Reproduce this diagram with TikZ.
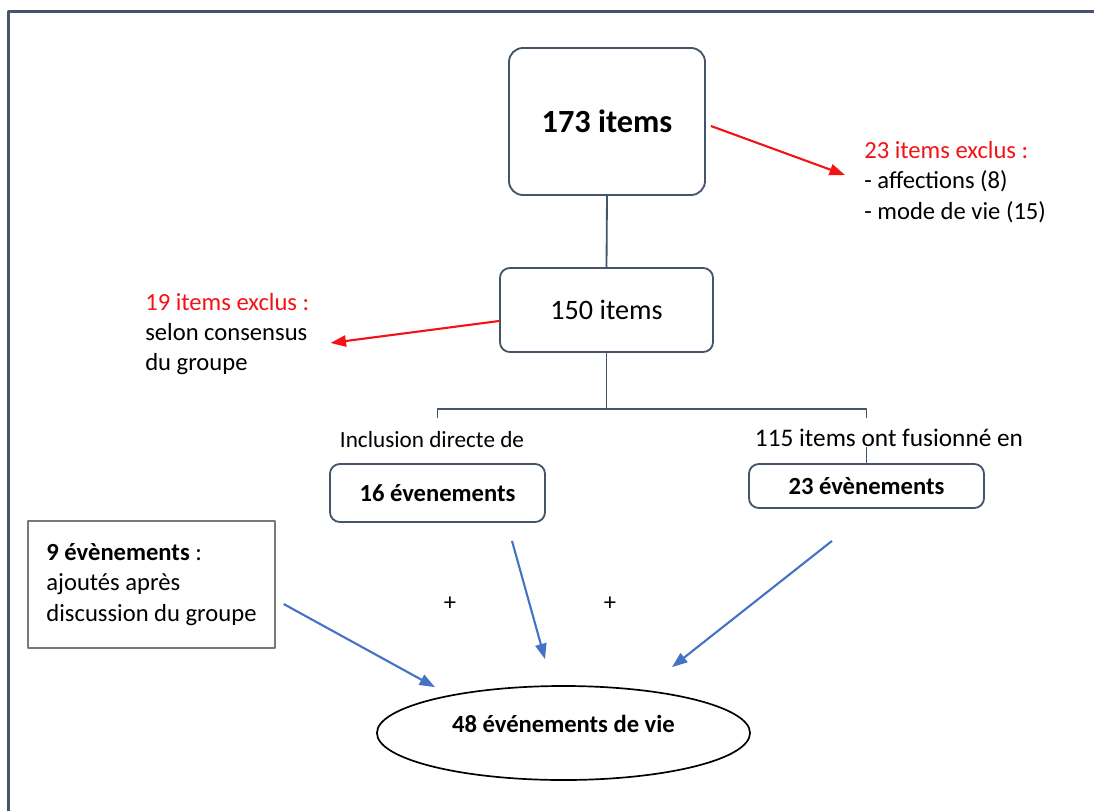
\documentclass[tikz,border=0pt]{standalone}
\usepackage{fontspec}
\setmainfont{Carlito}
\usepackage{tikz}
\usetikzlibrary{arrows.meta,shapes.geometric,positioning,calc}
\definecolor{Slate}{RGB}{68,84,106}
\definecolor{ExRed}{RGB}{245,18,22}
\definecolor{AddBlue}{RGB}{68,114,196}
\definecolor{BoxGray}{RGB}{120,120,120}

\begin{document}
\begin{tikzpicture} [x=0.025cm, y=-0.025cm, line join=round,
	   >={Triangle[length=11pt,width=8pt]},
	   every node/.style={font=\fontsize{17.5}{21.5}\selectfont, text=black},
	   stage/.style 2 args = {rectangle, minimum width=#1, minimum height=#2,
	                          rounded corners=7pt, draw=Slate, line width=1.3pt},
	   note/.style = {align=left, inner sep=0pt},
	   tree/.style = {draw=Slate, line width=1.3pt},
	   exarrow/.style = {->, draw=ExRed, line width=1.5pt},
	   addarrow/.style = {->, draw=AddBlue, line width=1.5pt},
	   frame/.style = {draw=Slate, line width=1.5pt}]
	\useasboundingbox (0,0) rectangle (1094,811);
	\draw [frame] (1094,11.5) -- (8.5,11.5) -- (8.5,811);

	%% Item selection
	\node [stage={4.9cm}{3.675cm}, rounded corners=10pt,
	       font=\fontsize{23}{27}\selectfont\bfseries] (items173) at (607,121.5) {173 items};
	\node [stage={5.325cm}{2.1cm}, font=\fontsize{20}{24}\selectfont] (items150) at (606.5,310) {150 items};
	\node [note, anchor=west] (ex23) at (864,182)
	      {\textcolor{ExRed}{23 items exclus :}\\- affections (8)\\- mode de vie (15)};
	\node [note, anchor=west] (ex19) at (145,334)
	      {\textcolor{ExRed}{19 items exclus :}\\selon consensus\\du groupe};

	%% Events
	\node [note, font=\fontsize{16.5}{20}\selectfont] (direct) at (432,440) {Inclusion directe de};
	\node [note, font=\fontsize{18}{22}\selectfont] (merged) at (889,438) {115 items ont fusionné en};
	\node [stage={5.375cm}{1.45cm}, font=\fontsize{17.5}{21.5}\selectfont\bfseries] (ev16) at (437.5,493) {16 évenements};
	\node [stage={5.875cm}{1.1cm}, font=\fontsize{17.5}{21.5}\selectfont\bfseries] (ev23) at (866.5,486) {23 évènements};
	\node [rectangle, draw=BoxGray, line width=0.9pt, minimum width=6.175cm, minimum height=3.175cm,
	       align=left] (ev9) at (151.5,584.5)
	      {\textbf{9 évènements} :\\ajoutés après\\discussion du groupe};
	\node (plusA) at (450,604) {+};
	\node (plusB) at (610,604) {+};
	\node [ellipse, draw=black, line width=1.2pt, minimum width=9.325cm, minimum height=2.35cm,
	       text height=1em, text depth=1.05em,
	       font=\fontsize{17.5}{21.5}\selectfont\bfseries] (life48) at (563.5,733) {48 événements de vie};

	%% Tree lines
	\draw [tree] (items173.south) -- (items150.north);
	\path (items150.south) ++(0,56) coordinate (split);
	\draw [tree] (items150.south) -- (split);
	\draw [tree] (split -| ev16) ++(0,9) -- ++(0,-9) -- (split -| ev23) -- ++(0,9);
	\draw [tree] (ev23.north) -- (ev23.north |- merged.south);

	%% Exclusions
	\draw [exarrow] ([shift={(5,4.5)}]items173.east) -- ([shift={(-19,-7)}]ex23.west);
	\draw [exarrow] ([shift={(0,11)}]items150.west) -- ([shift={(21,9)}]ex19.east);

	%% Merge into final list
	\draw [addarrow] ([shift={(8,19.5)}]ev9.east) -- ([shift={(-128.5,2)}]life48.north);
	\draw [addarrow] ([shift={(74.5,18)}]ev16.south) -- ([shift={(-18.5,-26)}]life48.north);
	\draw [addarrow] ([shift={(-34.5,32)}]ev23.south) -- ([shift={(108.5,-18)}]life48.north);
\end{tikzpicture}
\end{document}
